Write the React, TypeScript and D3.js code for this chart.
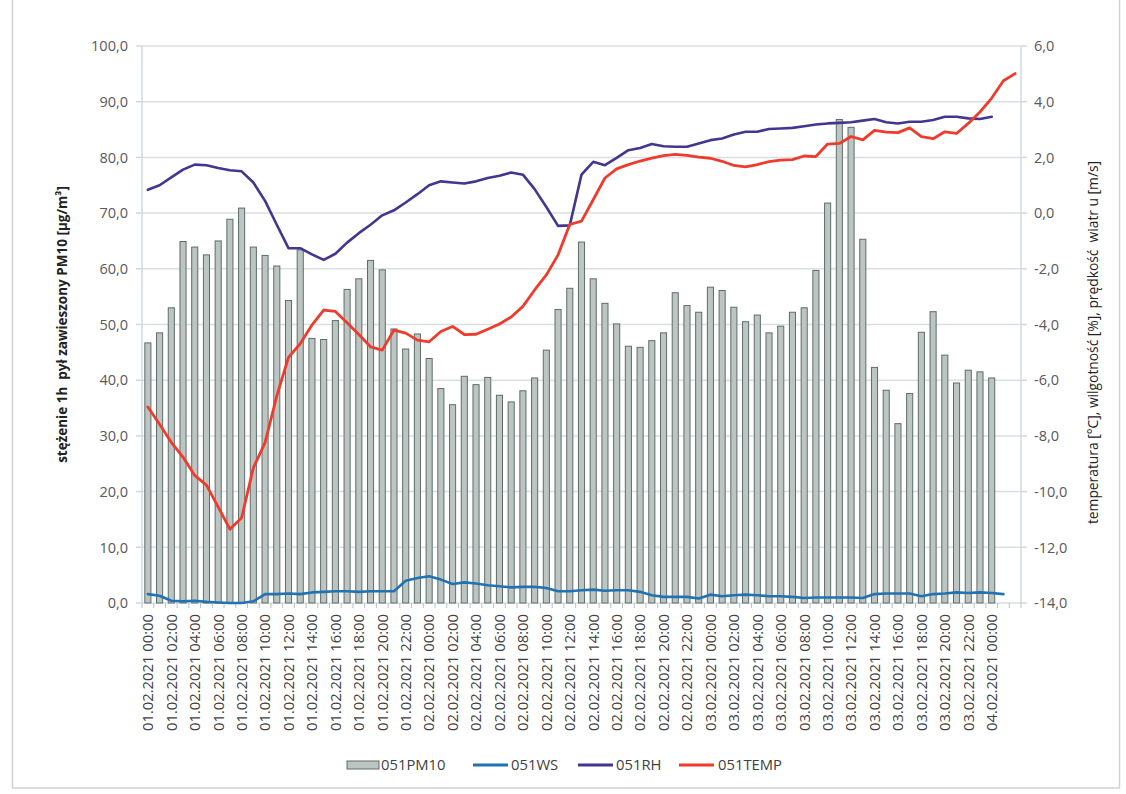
import React from "react";
import * as d3 from "d3";

const N_CATEGORIES = 75;

const TICK_LABELS = [
  "01.02.2021 00:00", "01.02.2021 02:00", "01.02.2021 04:00", "01.02.2021 06:00",
  "01.02.2021 08:00", "01.02.2021 10:00", "01.02.2021 12:00", "01.02.2021 14:00",
  "01.02.2021 16:00", "01.02.2021 18:00", "01.02.2021 20:00", "01.02.2021 22:00",
  "02.02.2021 00:00", "02.02.2021 02:00", "02.02.2021 04:00", "02.02.2021 06:00",
  "02.02.2021 08:00", "02.02.2021 10:00", "02.02.2021 12:00", "02.02.2021 14:00",
  "02.02.2021 16:00", "02.02.2021 18:00", "02.02.2021 20:00", "02.02.2021 22:00",
  "03.02.2021 00:00", "03.02.2021 02:00", "03.02.2021 04:00", "03.02.2021 06:00",
  "03.02.2021 08:00", "03.02.2021 10:00", "03.02.2021 12:00", "03.02.2021 14:00",
  "03.02.2021 16:00", "03.02.2021 18:00", "03.02.2021 20:00", "03.02.2021 22:00",
  "04.02.2021 00:00",
];

const PM10 = [
  46.7, 48.5, 53.0, 64.9, 63.9, 62.5, 65.0, 68.9, 70.9, 63.9,
  62.4, 60.5, 54.3, 63.4, 47.5, 47.3, 50.7, 56.3, 58.2, 61.5,
  59.8, 49.2, 45.6, 48.3, 43.9, 38.5, 35.6, 40.7, 39.2, 40.5,
  37.3, 36.1, 38.1, 40.4, 45.4, 52.7, 56.5, 64.8, 58.2, 53.8,
  50.1, 46.1, 45.9, 47.1, 48.5, 55.7, 53.4, 52.2, 56.7, 56.1,
  53.1, 50.5, 51.7, 48.5, 49.7, 52.2, 53.0, 59.7, 71.8, 86.8,
  85.4, 65.3, 42.3, 38.2, 32.2, 37.6, 48.6, 52.3, 44.5, 39.5,
  41.8, 41.5, 40.4,
];

const WS = [
  1.6, 1.3, 0.4, 0.3, 0.4, 0.2, 0.1, 0.0, 0.0, 0.3,
  1.6, 1.6, 1.7, 1.6, 1.9, 2.0, 2.1, 2.1, 2.0, 2.1,
  2.1, 2.1, 4.0, 4.5, 4.8, 4.2, 3.4, 3.7, 3.5, 3.2,
  3.0, 2.8, 2.9, 2.9, 2.7, 2.1, 2.1, 2.3, 2.4, 2.2,
  2.3, 2.3, 2.0, 1.4, 1.1, 1.1, 1.1, 0.8, 1.5, 1.2,
  1.4, 1.5, 1.4, 1.2, 1.2, 1.1, 0.9, 1.0, 1.0, 1.0,
  1.0, 0.9, 1.6, 1.7, 1.7, 1.7, 1.2, 1.6, 1.7, 1.9,
  1.8, 1.9, 1.8, 1.6,
];

const RH = [
  74.2, 75.0, 76.4, 77.8, 78.7, 78.6, 78.1, 77.7, 77.5, 75.5,
  72.2, 67.9, 63.7, 63.7, 62.6, 61.6, 62.7, 64.7, 66.4, 67.9,
  69.6, 70.5, 71.9, 73.4, 75.0, 75.7, 75.5, 75.3, 75.7, 76.3,
  76.7, 77.3, 76.9, 74.3, 71.1, 67.7, 67.8, 76.9, 79.2, 78.6,
  79.9, 81.3, 81.7, 82.4, 82.0, 81.9, 81.9, 82.5, 83.1, 83.4,
  84.1, 84.6, 84.6, 85.1, 85.2, 85.3, 85.6, 85.9, 86.1, 86.2,
  86.3, 86.6, 86.9, 86.3, 86.1, 86.4, 86.4, 86.7, 87.3, 87.3,
  87.0, 86.9, 87.3,
];

const TEMP = [
  -6.96, -7.58, -8.23, -8.76, -9.42, -9.77, -10.55, -11.35, -10.94, -9.15,
  -8.24, -6.56, -5.18, -4.69, -4.02, -3.48, -3.53, -3.94, -4.36, -4.80,
  -4.92, -4.20, -4.31, -4.56, -4.62, -4.25, -4.07, -4.36, -4.35, -4.17,
  -3.98, -3.73, -3.35, -2.76, -2.22, -1.50, -0.41, -0.29, 0.48, 1.26,
  1.59, 1.74, 1.87, 1.97, 2.06, 2.11, 2.07, 2.01, 1.97, 1.86,
  1.71, 1.66, 1.74, 1.85, 1.90, 1.92, 2.05, 2.03, 2.48, 2.50,
  2.75, 2.63, 2.97, 2.91, 2.89, 3.06, 2.75, 2.67, 2.92, 2.86,
  3.22, 3.63, 4.13, 4.75, 5.01,
];

const LEFT_TICKS = [0, 10, 20, 30, 40, 50, 60, 70, 80, 90, 100];
const RIGHT_TICKS = [-14, -12, -10, -8, -6, -4, -2, 0, 2, 4, 6];

const LEGEND = [
  { key: "051PM10", type: "bar" },
  { key: "051WS", type: "line", color: "#2172b4" },
  { key: "051RH", type: "line", color: "#44358f" },
  { key: "051TEMP", type: "line", color: "#ef3b2c" },
];

const fmt = (v: number) => v.toFixed(1).replace(".", ",");

export default function App() {
  const W = 1126;
  const H = 794;
  const left = 142;
  const right = 1021;
  const top = 46;
  const bottom = 603;
  const font = "'Open Sans', 'Noto Sans', sans-serif";
  const textColor = "#404040";

  const x = d3.scaleBand<number>().domain(d3.range(N_CATEGORIES)).range([left, right]);
  const cx = (i: number) => (x(i) as number) + x.bandwidth() / 2;
  const yL = d3.scaleLinear().domain([0, 100]).range([bottom, top]);
  const yR = d3.scaleLinear().domain([-14, 6]).range([bottom, top]);
  const barW = x.bandwidth() * 0.52;

  const lineL = d3.line<number>().x((_, i) => cx(i)).y((d) => yL(d));
  const lineR = d3.line<number>().x((_, i) => cx(i)).y((d) => yR(d));

  const barFill = "#bcc5c2";
  const barStroke = "#5e6d69";

  const legendY = 765;
  const legendItems = [
    { x: 347, textX: 381 },
    { x: 473, textX: 511 },
    { x: 578, textX: 616 },
    { x: 679, textX: 718 },
  ];

  return (
    <div style={{ position: "absolute", left: 0, top: 0 }}>
      <svg width={W} height={H} style={{ display: "block", background: "#ffffff" }}>
        {/* outer frame */}
        <rect x={12.5} y={-5} width={1107} height={793} fill="none" stroke="#cfd3d4" strokeWidth={1.5} />

        {/* gridlines */}
        {LEFT_TICKS.map((t) => (
          <line key={"g" + t} x1={left} x2={right} y1={yL(t)} y2={yL(t)} stroke="#d6e0e6" strokeWidth={1.5} />
        ))}

        {/* axes */}
        <line x1={left} x2={left} y1={top} y2={bottom} stroke="#d0d8dc" strokeWidth={1.5} />
        <line x1={right} x2={right} y1={top} y2={bottom} stroke="#d0d8dc" strokeWidth={1.5} />
        {LEFT_TICKS.map((t) => (
          <line key={"lt" + t} x1={left - 6} x2={left} y1={yL(t)} y2={yL(t)} stroke="#d0d8dc" strokeWidth={1.5} />
        ))}
        {RIGHT_TICKS.map((t) => (
          <line key={"rt" + t} x1={right} x2={right + 6} y1={yR(t)} y2={yR(t)} stroke="#d0d8dc" strokeWidth={1.5} />
        ))}

        {/* bars */}
        {PM10.map((v, i) => (
          <rect
            key={"b" + i}
            x={cx(i) - barW / 2}
            y={yL(v)}
            width={barW}
            height={yL(0) - yL(v)}
            fill={barFill}
            stroke={barStroke}
            strokeWidth={1}
          />
        ))}

        {/* category ticks */}
        {d3.range(N_CATEGORIES + 1).map((i) => {
          const xx = left + i * x.step();
          return <line key={"ct" + i} x1={xx} x2={xx} y1={bottom} y2={bottom + 5} stroke="#b8c0c4" strokeWidth={1} />;
        })}

        {/* lines */}
        <path d={lineL(WS) || ""} fill="none" stroke="#2172b4" strokeWidth={2.6} strokeLinejoin="round" strokeLinecap="round" />
        <path d={lineL(RH) || ""} fill="none" stroke="#44358f" strokeWidth={2.6} strokeLinejoin="round" strokeLinecap="round" />
        <path d={lineR(TEMP) || ""} fill="none" stroke="#ef3b2c" strokeWidth={2.8} strokeLinejoin="round" strokeLinecap="round" />

        {/* left tick labels */}
        {LEFT_TICKS.map((t) => (
          <text key={"ll" + t} x={128} y={yL(t)} dy="0.36em" textAnchor="end" fontFamily={font} fontSize={14.5} fill="#595959">
            {fmt(t)}
          </text>
        ))}
        {/* right tick labels */}
        {RIGHT_TICKS.map((t) => (
          <text key={"rl" + t} x={1034} y={yR(t)} dy="0.36em" textAnchor="start" fontFamily={font} fontSize={14.5} fill="#595959">
            {fmt(t)}
          </text>
        ))}

        {/* category labels */}
        {TICK_LABELS.map((lab, k) => {
          const xx = cx(k * 2);
          return (
            <text
              key={"xl" + k}
              transform={`translate(${xx},${bottom + 11}) rotate(-90)`}
              dy="0.36em"
              textAnchor="end"
              fontFamily={font}
              fontSize={14.8}
              fill={textColor}
            >
              {lab}
            </text>
          );
        })}

        {/* axis titles */}
        <text
          transform={`translate(62,${(top + bottom) / 2}) rotate(-90)`}
          dy="0.36em"
          textAnchor="middle"
          fontFamily={font}
          fontSize={13.5}
          fontWeight={700}
          fill="#222222"
          style={{ whiteSpace: "pre" }}
        >
          stężenie 1h  pył zawieszony PM10 [µg/m³]
        </text>
        <text
          transform={`translate(1093,${(top + bottom) / 2 + 18}) rotate(-90)`}
          dy="0.36em"
          textAnchor="middle"
          fontFamily={font}
          fontSize={13.8}
          fill="#222222"
          style={{ whiteSpace: "pre" }}
        >
          temperatura [°C], wilgotność [%], prędkość  wiatr u [m/s]
        </text>

        {/* legend */}
        {LEGEND.map((item, k) => {
          const pos = legendItems[k];
          return (
            <g key={"lg" + k}>
              {item.type === "bar" ? (
                <rect x={pos.x} y={legendY - 4} width={32} height={8} fill={barFill} stroke={barStroke} strokeWidth={1} />
              ) : (
                <line x1={pos.x} x2={pos.x + 35} y1={legendY} y2={legendY} stroke={item.color} strokeWidth={2.8} />
              )}
              <text x={pos.textX} y={legendY} dy="0.36em" fontFamily={font} fontSize={14.8} fill={textColor}>
                {item.key}
              </text>
            </g>
          );
        })}
      </svg>
    </div>
  );
}
